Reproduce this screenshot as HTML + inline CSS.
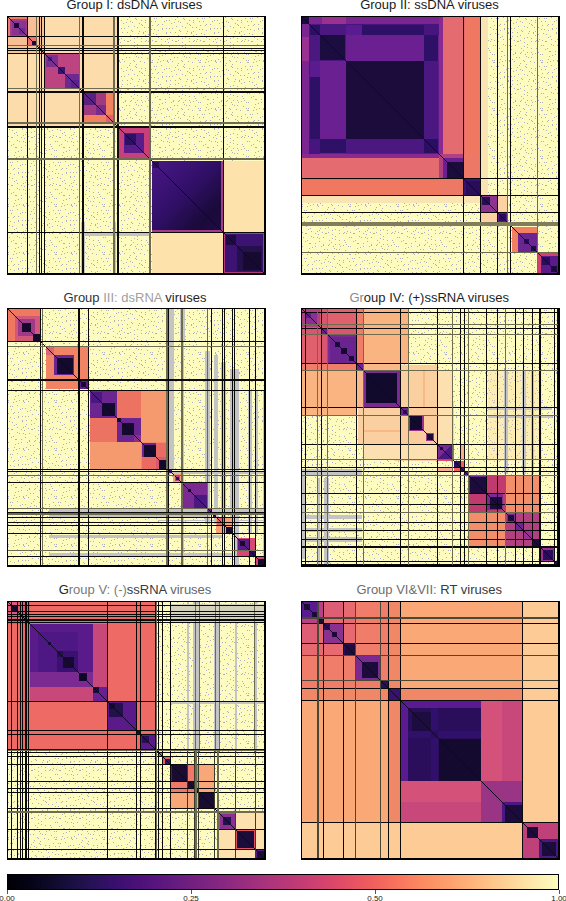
<!DOCTYPE html>
<html><head><meta charset="utf-8"><style>
html,body{margin:0;padding:0;background:#fff;width:566px;height:901px;overflow:hidden}
svg{display:block;font-family:"Liberation Sans",sans-serif}
</style></head><body>
<svg width="566" height="901" viewBox="0 0 566 901" shape-rendering="crispEdges">
<defs><linearGradient id="cb" x1="0" x2="1" y1="0" y2="0"><stop offset="0" stop-color="#000004"/><stop offset="0.05" stop-color="#06051a"/><stop offset="0.1" stop-color="#140e36"/><stop offset="0.15" stop-color="#251255"/><stop offset="0.2" stop-color="#3b0f70"/><stop offset="0.25" stop-color="#51127c"/><stop offset="0.3" stop-color="#641a80"/><stop offset="0.35" stop-color="#782281"/><stop offset="0.4" stop-color="#8c2981"/><stop offset="0.45" stop-color="#a1307e"/><stop offset="0.5" stop-color="#b73779"/><stop offset="0.55" stop-color="#ca3e72"/><stop offset="0.6" stop-color="#de4968"/><stop offset="0.65" stop-color="#ed5a5f"/><stop offset="0.7" stop-color="#f7705c"/><stop offset="0.75" stop-color="#fc8961"/><stop offset="0.8" stop-color="#fe9f6d"/><stop offset="0.85" stop-color="#feb77e"/><stop offset="0.9" stop-color="#fecf92"/><stop offset="0.95" stop-color="#fde7a9"/><stop offset="1" stop-color="#fcfdbf"/></linearGradient><linearGradient id="gF" x1="0" y1="0" x2="1" y2="1"><stop offset="0" stop-color="#4a1786"/><stop offset="0.45" stop-color="#32106a"/><stop offset="0.8" stop-color="#1a0a3a"/><stop offset="1" stop-color="#1e0b42"/></linearGradient><linearGradient id="g6" x1="0" y1="0" x2="1" y2="1"><stop offset="0" stop-color="#4a1888"/><stop offset="0.5" stop-color="#2a0e58"/><stop offset="0.8" stop-color="#160a30"/><stop offset="1" stop-color="#1a0a38"/></linearGradient><pattern id="dots" x="0.5" y="0.5" width="48" height="48" patternUnits="userSpaceOnUse"><rect x="2" y="1" width="1" height="1" fill="#acadbf"/><rect x="3" y="4" width="1" height="1" fill="#acadbf"/><rect x="0" y="8" width="1" height="1" fill="#acadbf"/><rect x="2" y="12" width="1" height="1" fill="#acadbf"/><rect x="1" y="16" width="1" height="1" fill="#acadbf"/><rect x="0" y="23" width="1" height="1" fill="#acadbf"/><rect x="3" y="24" width="1" height="1" fill="#acadbf"/><rect x="1" y="28" width="1" height="1" fill="#acadbf"/><rect x="3" y="32" width="1" height="1" fill="#acadbf"/><rect x="0" y="37" width="1" height="1" fill="#acadbf"/><rect x="0" y="43" width="1" height="1" fill="#acadbf"/><rect x="0" y="45" width="1" height="1" fill="#acadbf"/><rect x="4" y="1" width="1" height="1" fill="#acadbf"/><rect x="6" y="7" width="1" height="1" fill="#acadbf"/><rect x="5" y="8" width="1" height="1" fill="#acadbf"/><rect x="6" y="13" width="1" height="1" fill="#acadbf"/><rect x="4" y="17" width="1" height="1" fill="#acadbf"/><rect x="6" y="20" width="1" height="1" fill="#acadbf"/><rect x="4" y="24" width="1" height="1" fill="#acadbf"/><rect x="5" y="31" width="1" height="1" fill="#acadbf"/><rect x="7" y="34" width="1" height="1" fill="#acadbf"/><rect x="7" y="39" width="1" height="1" fill="#acadbf"/><rect x="6" y="42" width="1" height="1" fill="#acadbf"/><rect x="5" y="45" width="1" height="1" fill="#acadbf"/><rect x="9" y="0" width="1" height="1" fill="#acadbf"/><rect x="10" y="7" width="1" height="1" fill="#acadbf"/><rect x="10" y="11" width="1" height="1" fill="#acadbf"/><rect x="10" y="12" width="1" height="1" fill="#acadbf"/><rect x="8" y="19" width="1" height="1" fill="#acadbf"/><rect x="9" y="22" width="1" height="1" fill="#acadbf"/><rect x="9" y="27" width="1" height="1" fill="#acadbf"/><rect x="11" y="28" width="1" height="1" fill="#acadbf"/><rect x="8" y="34" width="1" height="1" fill="#acadbf"/><rect x="10" y="38" width="1" height="1" fill="#acadbf"/><rect x="11" y="43" width="1" height="1" fill="#acadbf"/><rect x="8" y="44" width="1" height="1" fill="#acadbf"/><rect x="14" y="3" width="1" height="1" fill="#acadbf"/><rect x="12" y="4" width="1" height="1" fill="#acadbf"/><rect x="14" y="11" width="1" height="1" fill="#acadbf"/><rect x="14" y="15" width="1" height="1" fill="#acadbf"/><rect x="14" y="16" width="1" height="1" fill="#acadbf"/><rect x="15" y="22" width="1" height="1" fill="#acadbf"/><rect x="13" y="24" width="1" height="1" fill="#acadbf"/><rect x="15" y="28" width="1" height="1" fill="#acadbf"/><rect x="13" y="34" width="1" height="1" fill="#acadbf"/><rect x="13" y="37" width="1" height="1" fill="#acadbf"/><rect x="15" y="43" width="1" height="1" fill="#acadbf"/><rect x="15" y="44" width="1" height="1" fill="#acadbf"/><rect x="17" y="3" width="1" height="1" fill="#acadbf"/><rect x="19" y="6" width="1" height="1" fill="#acadbf"/><rect x="17" y="11" width="1" height="1" fill="#acadbf"/><rect x="18" y="15" width="1" height="1" fill="#acadbf"/><rect x="18" y="19" width="1" height="1" fill="#acadbf"/><rect x="17" y="21" width="1" height="1" fill="#acadbf"/><rect x="16" y="25" width="1" height="1" fill="#acadbf"/><rect x="17" y="29" width="1" height="1" fill="#acadbf"/><rect x="17" y="32" width="1" height="1" fill="#acadbf"/><rect x="19" y="37" width="1" height="1" fill="#acadbf"/><rect x="18" y="42" width="1" height="1" fill="#acadbf"/><rect x="16" y="45" width="1" height="1" fill="#acadbf"/><rect x="23" y="2" width="1" height="1" fill="#acadbf"/><rect x="22" y="5" width="1" height="1" fill="#acadbf"/><rect x="20" y="11" width="1" height="1" fill="#acadbf"/><rect x="23" y="15" width="1" height="1" fill="#acadbf"/><rect x="23" y="19" width="1" height="1" fill="#acadbf"/><rect x="20" y="23" width="1" height="1" fill="#acadbf"/><rect x="23" y="24" width="1" height="1" fill="#acadbf"/><rect x="21" y="28" width="1" height="1" fill="#acadbf"/><rect x="21" y="35" width="1" height="1" fill="#acadbf"/><rect x="21" y="36" width="1" height="1" fill="#acadbf"/><rect x="22" y="40" width="1" height="1" fill="#acadbf"/><rect x="20" y="44" width="1" height="1" fill="#acadbf"/><rect x="25" y="0" width="1" height="1" fill="#acadbf"/><rect x="26" y="4" width="1" height="1" fill="#acadbf"/><rect x="24" y="9" width="1" height="1" fill="#acadbf"/><rect x="27" y="13" width="1" height="1" fill="#acadbf"/><rect x="26" y="18" width="1" height="1" fill="#acadbf"/><rect x="26" y="23" width="1" height="1" fill="#acadbf"/><rect x="24" y="24" width="1" height="1" fill="#acadbf"/><rect x="27" y="31" width="1" height="1" fill="#acadbf"/><rect x="27" y="35" width="1" height="1" fill="#acadbf"/><rect x="26" y="36" width="1" height="1" fill="#acadbf"/><rect x="25" y="40" width="1" height="1" fill="#acadbf"/><rect x="26" y="46" width="1" height="1" fill="#acadbf"/><rect x="31" y="1" width="1" height="1" fill="#acadbf"/><rect x="28" y="5" width="1" height="1" fill="#acadbf"/><rect x="30" y="9" width="1" height="1" fill="#acadbf"/><rect x="28" y="14" width="1" height="1" fill="#acadbf"/><rect x="28" y="18" width="1" height="1" fill="#acadbf"/><rect x="30" y="21" width="1" height="1" fill="#acadbf"/><rect x="30" y="25" width="1" height="1" fill="#acadbf"/><rect x="30" y="29" width="1" height="1" fill="#acadbf"/><rect x="29" y="33" width="1" height="1" fill="#acadbf"/><rect x="31" y="37" width="1" height="1" fill="#acadbf"/><rect x="29" y="43" width="1" height="1" fill="#acadbf"/><rect x="30" y="44" width="1" height="1" fill="#acadbf"/><rect x="32" y="2" width="1" height="1" fill="#acadbf"/><rect x="35" y="6" width="1" height="1" fill="#acadbf"/><rect x="33" y="10" width="1" height="1" fill="#acadbf"/><rect x="35" y="14" width="1" height="1" fill="#acadbf"/><rect x="34" y="16" width="1" height="1" fill="#acadbf"/><rect x="33" y="20" width="1" height="1" fill="#acadbf"/><rect x="33" y="27" width="1" height="1" fill="#acadbf"/><rect x="33" y="30" width="1" height="1" fill="#acadbf"/><rect x="33" y="35" width="1" height="1" fill="#acadbf"/><rect x="32" y="39" width="1" height="1" fill="#acadbf"/><rect x="34" y="40" width="1" height="1" fill="#acadbf"/><rect x="32" y="47" width="1" height="1" fill="#acadbf"/><rect x="37" y="3" width="1" height="1" fill="#acadbf"/><rect x="37" y="7" width="1" height="1" fill="#acadbf"/><rect x="38" y="8" width="1" height="1" fill="#acadbf"/><rect x="39" y="15" width="1" height="1" fill="#acadbf"/><rect x="39" y="16" width="1" height="1" fill="#acadbf"/><rect x="37" y="21" width="1" height="1" fill="#acadbf"/><rect x="37" y="24" width="1" height="1" fill="#acadbf"/><rect x="37" y="31" width="1" height="1" fill="#acadbf"/><rect x="37" y="35" width="1" height="1" fill="#acadbf"/><rect x="38" y="37" width="1" height="1" fill="#acadbf"/><rect x="37" y="40" width="1" height="1" fill="#acadbf"/><rect x="36" y="44" width="1" height="1" fill="#acadbf"/><rect x="41" y="3" width="1" height="1" fill="#acadbf"/><rect x="41" y="5" width="1" height="1" fill="#acadbf"/><rect x="40" y="10" width="1" height="1" fill="#acadbf"/><rect x="41" y="14" width="1" height="1" fill="#acadbf"/><rect x="41" y="18" width="1" height="1" fill="#acadbf"/><rect x="42" y="23" width="1" height="1" fill="#acadbf"/><rect x="41" y="24" width="1" height="1" fill="#acadbf"/><rect x="42" y="31" width="1" height="1" fill="#acadbf"/><rect x="43" y="33" width="1" height="1" fill="#acadbf"/><rect x="41" y="36" width="1" height="1" fill="#acadbf"/><rect x="43" y="41" width="1" height="1" fill="#acadbf"/><rect x="40" y="45" width="1" height="1" fill="#acadbf"/><rect x="45" y="1" width="1" height="1" fill="#acadbf"/><rect x="47" y="4" width="1" height="1" fill="#acadbf"/><rect x="44" y="10" width="1" height="1" fill="#acadbf"/><rect x="47" y="12" width="1" height="1" fill="#acadbf"/><rect x="44" y="17" width="1" height="1" fill="#acadbf"/><rect x="45" y="22" width="1" height="1" fill="#acadbf"/><rect x="44" y="24" width="1" height="1" fill="#acadbf"/><rect x="47" y="28" width="1" height="1" fill="#acadbf"/><rect x="44" y="35" width="1" height="1" fill="#acadbf"/><rect x="46" y="37" width="1" height="1" fill="#acadbf"/><rect x="46" y="43" width="1" height="1" fill="#acadbf"/><rect x="47" y="45" width="1" height="1" fill="#acadbf"/><rect x="4" y="4" width="1" height="1" fill="#ffffff"/><rect x="7" y="13" width="1" height="1" fill="#ffffff"/><rect x="6" y="21" width="1" height="1" fill="#ffffff"/><rect x="3" y="27" width="1" height="1" fill="#ffffff"/><rect x="4" y="30" width="1" height="1" fill="#ffffff"/><rect x="5" y="43" width="1" height="1" fill="#ffffff"/><rect x="10" y="3" width="1" height="1" fill="#ffffff"/><rect x="9" y="9" width="1" height="1" fill="#ffffff"/><rect x="11" y="19" width="1" height="1" fill="#ffffff"/><rect x="14" y="37" width="1" height="1" fill="#ffffff"/><rect x="9" y="47" width="1" height="1" fill="#ffffff"/><rect x="21" y="4" width="1" height="1" fill="#ffffff"/><rect x="16" y="9" width="1" height="1" fill="#ffffff"/><rect x="20" y="16" width="1" height="1" fill="#ffffff"/><rect x="19" y="24" width="1" height="1" fill="#ffffff"/><rect x="20" y="30" width="1" height="1" fill="#ffffff"/><rect x="18" y="45" width="1" height="1" fill="#ffffff"/><rect x="28" y="9" width="1" height="1" fill="#ffffff"/><rect x="31" y="17" width="1" height="1" fill="#ffffff"/><rect x="28" y="18" width="1" height="1" fill="#ffffff"/><rect x="25" y="32" width="1" height="1" fill="#ffffff"/><rect x="28" y="42" width="1" height="1" fill="#ffffff"/><rect x="35" y="0" width="1" height="1" fill="#ffffff"/><rect x="33" y="9" width="1" height="1" fill="#ffffff"/><rect x="38" y="14" width="1" height="1" fill="#ffffff"/><rect x="32" y="22" width="1" height="1" fill="#ffffff"/><rect x="34" y="43" width="1" height="1" fill="#ffffff"/><rect x="43" y="8" width="1" height="1" fill="#ffffff"/><rect x="42" y="14" width="1" height="1" fill="#ffffff"/><rect x="40" y="20" width="1" height="1" fill="#ffffff"/><rect x="40" y="29" width="1" height="1" fill="#ffffff"/><rect x="43" y="34" width="1" height="1" fill="#ffffff"/><rect x="47" y="36" width="1" height="1" fill="#ffffff"/><rect x="46" y="47" width="1" height="1" fill="#ffffff"/></pattern></defs><g transform="translate(7.5,16.5)"><rect x="0" y="0" width="257.5" height="257.5" fill="#fdfbbe"/><rect x="0" y="0" width="257.5" height="257.5" fill="url(#dots)"/><rect x="0" y="0" width="111.5" height="111.5" fill="#fcdcaa"/><rect x="0" y="0" width="37.2" height="37.2" fill="#f9c292"/><rect x="0" y="19.5" width="19.5" height="9" fill="#f8be96"/><rect x="19.5" y="0" width="9" height="19.5" fill="#f8be96"/><rect x="0" y="0" width="19.5" height="19.5" fill="#f07c68"/><rect x="2.7" y="2.7" width="16.8" height="16.8" fill="#a03c88"/><rect x="4" y="4" width="14" height="14" fill="#8a3490"/><rect x="6.4" y="6.4" width="4.7" height="4.7" fill="#1c0c3c"/><rect x="11.1" y="11.1" width="6.4" height="6.4" fill="#6a2a90"/><rect x="19.6" y="19.6" width="9" height="9" fill="#f07070"/><rect x="24.9" y="24.9" width="3.7" height="3.7" fill="#1c0c3c"/><rect x="28.5" y="28.5" width="1.5" height="1.5" fill="#c04878"/><rect x="30" y="30" width="2.6" height="2.6" fill="#e8706a"/><rect x="32.6" y="32.6" width="1.6" height="1.6" fill="#a03880"/><rect x="34.2" y="34.2" width="3" height="3" fill="#f08068"/><rect x="37.2" y="37.2" width="34.8" height="34.8" fill="#bc4480"/><rect x="38.5" y="38.5" width="11.5" height="11.5" fill="#7a3090"/><rect x="40" y="40" width="4" height="4" fill="#4a1a78"/><rect x="50" y="50" width="7" height="7" fill="#3a1470"/><rect x="57" y="57" width="14.2" height="14.2" fill="#6a2a90"/><rect x="63" y="63" width="8" height="8" fill="#5a2090"/><rect x="74.5" y="74.5" width="32" height="32" fill="#f3805e"/><rect x="76" y="76" width="12" height="12" fill="#5a2080"/><rect x="88" y="88" width="10" height="10" fill="#7a2a88"/><rect x="98" y="98" width="8" height="8" fill="#e06070"/><rect x="76" y="88" width="12" height="10" fill="#a03a80"/><rect x="88" y="76" width="10" height="12" fill="#a03a80"/><rect x="111.5" y="111.5" width="30.5" height="30.5" fill="#c8407a"/><rect x="116.7" y="116.7" width="19.4" height="19.4" fill="#5a1c8a"/><rect x="117.2" y="117.2" width="11.4" height="11.4" fill="#2c1062"/><rect x="144" y="144" width="71.6" height="71.6" fill="#a83888"/><rect x="144" y="144" width="69.4" height="69.4" fill="url(#gF)"/><rect x="145.5" y="145.5" width="6" height="6" fill="#2a0d58"/><rect x="144.5" y="215.6" width="71.1" height="41.9" fill="#fde2ac"/><rect x="215.6" y="144.5" width="41.9" height="71.1" fill="#fde2ac"/><rect x="215.6" y="215.6" width="41.9" height="41.9" fill="#b03a80"/><rect x="217.5" y="217.5" width="38" height="38" fill="#3c1272"/><rect x="218.5" y="218.5" width="9.5" height="9.5" fill="#1e0b42"/><rect x="229" y="229" width="25.5" height="25.5" fill="#24104a"/><rect x="235" y="235" width="18" height="18" fill="#160a30"/><rect x="73.5" y="205" width="3.5" height="52.5" fill="#c4c4c4"/><rect x="106.4" y="205" width="1.8" height="52.5" fill="#c4c4c4"/><rect x="76" y="216" width="67" height="3" fill="#c4c4c4"/><line x1="0" y1="0" x2="257.5" y2="257.5" stroke="#0c0824" stroke-width="1.3"/><rect x="19.1" y="0" width="1" height="257.5" fill="#0a0a0a"/><rect x="0" y="19.1" width="257.5" height="1" fill="#0a0a0a"/><rect x="31.3" y="0" width="1" height="257.5" fill="#0a0a0a"/><rect x="0" y="31.3" width="257.5" height="1" fill="#0a0a0a"/><rect x="33.4" y="0" width="1" height="257.5" fill="#0a0a0a"/><rect x="0" y="33.4" width="257.5" height="1" fill="#0a0a0a"/><rect x="36.6" y="0" width="1" height="257.5" fill="#0a0a0a"/><rect x="0" y="36.6" width="257.5" height="1" fill="#0a0a0a"/><rect x="74" y="0" width="1" height="257.5" fill="#0a0a0a"/><rect x="0" y="74" width="257.5" height="1" fill="#0a0a0a"/><rect x="75.3" y="0" width="1" height="257.5" fill="#0a0a0a"/><rect x="0" y="75.3" width="257.5" height="1" fill="#0a0a0a"/><rect x="109.3" y="0" width="1" height="257.5" fill="#0a0a0a"/><rect x="0" y="109.3" width="257.5" height="1" fill="#0a0a0a"/><rect x="110.7" y="0" width="1" height="257.5" fill="#0a0a0a"/><rect x="0" y="110.7" width="257.5" height="1" fill="#0a0a0a"/><rect x="215.1" y="0" width="1" height="257.5" fill="#0a0a0a"/><rect x="0" y="215.1" width="257.5" height="1" fill="#0a0a0a"/><rect x="71.4" y="0" width="1.2" height="257.5" fill="#6e6c50"/><rect x="0" y="71.4" width="257.5" height="1.2" fill="#6e6c50"/><rect x="105.9" y="0" width="1.2" height="257.5" fill="#6e6c50"/><rect x="0" y="105.9" width="257.5" height="1.2" fill="#6e6c50"/><rect x="28.3" y="0" width="1.6" height="257.5" fill="#6e6c50"/><rect x="0" y="28.3" width="257.5" height="1.6" fill="#6e6c50"/><rect x="141.9" y="0" width="2" height="257.5" fill="#6e6c50"/><rect x="0" y="141.9" width="257.5" height="2" fill="#6e6c50"/><rect x="0" y="0" width="257.5" height="257.5" fill="none" stroke="#000" stroke-width="1.2"/></g><g transform="translate(301.5,16.5)"><rect x="0" y="0" width="257.5" height="257.5" fill="#fdfbbe"/><rect x="0" y="0" width="257.5" height="257.5" fill="url(#dots)"/><rect x="0" y="0" width="137" height="137" fill="#5a1a8a"/><rect x="7" y="0" width="130" height="7" fill="#7a2590"/><rect x="0" y="7" width="7" height="130" fill="#7a2590"/><rect x="20" y="0" width="24" height="7" fill="#9a3090"/><rect x="0" y="20" width="7" height="24" fill="#9a3090"/><rect x="0" y="0" width="7" height="7" fill="#1a0c40"/><rect x="7" y="7" width="37" height="37" fill="#4a1880"/><rect x="8" y="8" width="10.5" height="10.5" fill="#2a1060"/><rect x="18.5" y="18.5" width="25" height="25" fill="#1c0d40"/><rect x="44" y="7" width="93" height="37" fill="#6a2090"/><rect x="7" y="44" width="37" height="93" fill="#6a2090"/><rect x="7" y="44" width="11" height="93" fill="#46167e"/><rect x="44" y="7" width="93" height="11" fill="#46167e"/><rect x="60" y="8" width="62" height="10" fill="#2e1066"/><rect x="8" y="60" width="10" height="62" fill="#2e1066"/><rect x="44" y="8" width="16" height="10" fill="#5a1a90"/><rect x="8" y="44" width="10" height="16" fill="#5a1a90"/><rect x="122" y="18" width="14.6" height="26" fill="#2e1066"/><rect x="18" y="122" width="26" height="14.6" fill="#2e1066"/><rect x="122" y="44" width="14.6" height="78" fill="#4a1880"/><rect x="44" y="122" width="78" height="14.6" fill="#4a1880"/><rect x="44" y="44" width="78" height="78" fill="#1c0c3c"/><rect x="122" y="122" width="14.6" height="14.6" fill="#2a0f60"/><rect x="137" y="0" width="26" height="137" fill="#e46c70"/><rect x="0" y="137" width="137" height="26" fill="#e46c70"/><rect x="137" y="0" width="4.4" height="137" fill="#8a2a90"/><rect x="0" y="137" width="137" height="4.4" fill="#8a2a90"/><rect x="163" y="0" width="16" height="137" fill="#f07860"/><rect x="0" y="163" width="137" height="16" fill="#f07860"/><rect x="179.6" y="0" width="6.4" height="179" fill="#fbe4b4"/><rect x="0" y="179.6" width="179" height="6.4" fill="#fbe4b4"/><rect x="137" y="137" width="25" height="25" fill="#b04080"/><rect x="141.4" y="141.4" width="20.6" height="20.6" fill="#6a2090"/><rect x="145.7" y="145.7" width="16.3" height="16.3" fill="#1c0c3c"/><rect x="137" y="162" width="25" height="17" fill="#ee7866"/><rect x="162" y="137" width="17" height="25" fill="#ee7866"/><rect x="162.4" y="162.4" width="16.6" height="16.6" fill="#3a1070"/><rect x="164" y="164" width="14" height="14" fill="#2a0d58"/><rect x="179.6" y="179.6" width="25.9" height="25.9" fill="#fcd2a2"/><rect x="179.6" y="179.6" width="16" height="16" fill="#8e3290"/><rect x="180" y="180" width="8.5" height="8.5" fill="#241050"/><rect x="196.4" y="196.4" width="3.6" height="3.6" fill="#241050"/><rect x="195.6" y="195.6" width="9.9" height="9.9" fill="#5a1a80"/><rect x="197" y="197" width="7" height="7" fill="#2a0d58"/><rect x="210.5" y="210.5" width="24.9" height="24.9" fill="#f08060"/><rect x="216" y="216" width="19" height="19" fill="#6a2590"/><rect x="222" y="222" width="5" height="5" fill="#2a0d58"/><rect x="229" y="229" width="5.5" height="5.5" fill="#1c0d40"/><rect x="236.5" y="236.5" width="21" height="21" fill="#d04070"/><rect x="239" y="239" width="17" height="17" fill="#5a1a8a"/><rect x="240" y="240" width="8" height="8" fill="#2a0d58"/><rect x="249" y="249" width="6" height="6" fill="#1c0d40"/><line x1="0" y1="0" x2="257.5" y2="257.5" stroke="#0c0824" stroke-width="1.3"/><rect x="161.4" y="0" width="1" height="257.5" fill="#0a0a0a"/><rect x="0" y="161.4" width="257.5" height="1" fill="#0a0a0a"/><rect x="178.6" y="0" width="1" height="257.5" fill="#0a0a0a"/><rect x="0" y="178.6" width="257.5" height="1" fill="#0a0a0a"/><rect x="195.1" y="0" width="1" height="257.5" fill="#0a0a0a"/><rect x="0" y="195.1" width="257.5" height="1" fill="#0a0a0a"/><rect x="208.9" y="0" width="1" height="257.5" fill="#0a0a0a"/><rect x="0" y="208.9" width="257.5" height="1" fill="#0a0a0a"/><rect x="205" y="0" width="1.6" height="257.5" fill="#6e6c50"/><rect x="0" y="205.4" width="257.5" height="4.2" fill="#807c5c"/><rect x="235.2" y="0" width="1.6" height="257.5" fill="#6e6c50"/><rect x="0" y="235.2" width="257.5" height="1.6" fill="#6e6c50"/><rect x="0" y="0" width="257.5" height="257.5" fill="none" stroke="#000" stroke-width="1.2"/></g><g transform="translate(7.5,308.5)"><rect x="0" y="0" width="257.5" height="257.5" fill="#fdfbbe"/><rect x="0" y="0" width="257.5" height="257.5" fill="url(#dots)"/><rect x="160" y="0" width="6.5" height="160" fill="#c4c4c4"/><rect x="172.2" y="0" width="5.1" height="33" fill="#c4c4c4"/><rect x="173.5" y="33" width="3" height="224.5" fill="#c4c4c4"/><rect x="197.5" y="42" width="4.5" height="173" fill="#c4c4c4"/><rect x="206.5" y="46.7" width="4" height="168.3" fill="#c4c4c4"/><rect x="213.5" y="53" width="4.5" height="162" fill="#c4c4c4"/><rect x="222.5" y="60.6" width="4" height="154.4" fill="#c4c4c4"/><rect x="227.5" y="60.6" width="3.5" height="196.9" fill="#c4c4c4"/><rect x="240.5" y="82" width="3.5" height="143" fill="#c4c4c4"/><rect x="247" y="82" width="3" height="143" fill="#c4c4c4"/><rect x="255.5" y="82" width="2" height="175.5" fill="#c4c4c4"/><rect x="41" y="200.7" width="216.5" height="2.3" fill="#c4c4c4"/><rect x="41" y="205.5" width="159" height="2.5" fill="#c4c4c4"/><rect x="150" y="211.3" width="107.5" height="1.2" fill="#c4c4c4"/><rect x="41" y="226.6" width="174" height="2.4" fill="#c4c4c4"/><rect x="41" y="244" width="184" height="3" fill="#c4c4c4"/><rect x="160" y="163.4" width="97.5" height="2.3" fill="#c4c4c4"/><rect x="0.5" y="0.5" width="32.1" height="32.1" fill="#f07860"/><rect x="7.2" y="7.2" width="25.4" height="25.4" fill="#d05878"/><rect x="10" y="10" width="17" height="17" fill="#a03a88"/><rect x="14.3" y="14.3" width="9.5" height="9.5" fill="#140a2e"/><rect x="25.4" y="25.4" width="7.2" height="7.2" fill="#140a2e"/><rect x="38.2" y="38.2" width="42.1" height="42.1" fill="#f08464"/><rect x="38.2" y="38.2" width="7.8" height="7.8" fill="#d86878"/><rect x="46" y="46" width="20.8" height="20.8" fill="#6a2590"/><rect x="49.3" y="49.3" width="15.9" height="15.9" fill="#140a2e"/><rect x="72.3" y="72.3" width="8" height="8" fill="#5a1c88"/><rect x="73.5" y="73.5" width="4.5" height="4.5" fill="#1a0c30"/><rect x="82.5" y="82.5" width="77.5" height="77.5" fill="#f08a68"/><rect x="133.6" y="82.5" width="26.4" height="51.1" fill="#f59a6e"/><rect x="82.5" y="133.6" width="51.1" height="26.4" fill="#f59a6e"/><rect x="82.5" y="82.5" width="26.5" height="26.5" fill="#6a2590"/><rect x="83" y="83" width="11" height="11" fill="#4a1880"/><rect x="94.7" y="94.5" width="12.7" height="12.5" fill="#140a2e"/><rect x="82.5" y="109" width="26.5" height="24.6" fill="#ec7262"/><rect x="109" y="82.5" width="24.6" height="26.5" fill="#ec7262"/><rect x="109.5" y="109.5" width="24.1" height="24.1" fill="#6a2590"/><rect x="109.5" y="109.5" width="4.3" height="4.3" fill="#1a0c30"/><rect x="114.6" y="114.6" width="11.9" height="11.9" fill="#140a2e"/><rect x="126.5" y="126.5" width="7.1" height="7.1" fill="#8a3088"/><rect x="134.4" y="134.4" width="13.6" height="13.6" fill="#6a2590"/><rect x="136.5" y="136.5" width="11.5" height="11.5" fill="#140a2e"/><rect x="148" y="134.4" width="12" height="13.6" fill="#ec6a64"/><rect x="134.4" y="148" width="13.6" height="12" fill="#ec6a64"/><rect x="148" y="148" width="12" height="12" fill="#d85870"/><rect x="151" y="151" width="9" height="9" fill="#140a2e"/><rect x="161.8" y="161.8" width="3.1" height="3.1" fill="#4a1880"/><rect x="165.5" y="165.5" width="8.6" height="8.6" fill="#f8a070"/><rect x="167" y="167" width="5" height="5" fill="#c04878"/><rect x="168" y="168" width="3" height="3" fill="#3a1070"/><rect x="174.8" y="174.8" width="25.3" height="25.3" fill="#7a2a90"/><rect x="180.3" y="180.3" width="3.1" height="3.1" fill="#1a0c30"/><rect x="186" y="186" width="14.1" height="14.1" fill="#4a1880"/><polygon points="186,200.1 200.1,200.1 200.1,186" fill="#4a1880"/><rect x="200.7" y="200.7" width="2.5" height="2.5" fill="#6a2590"/><rect x="205" y="205" width="3" height="3" fill="#2a0d58"/><rect x="208.8" y="208.8" width="16.7" height="16.7" fill="#f8a070"/><rect x="209.5" y="209.5" width="7.5" height="7.5" fill="#e86070"/><rect x="218.6" y="218.6" width="6.9" height="6.9" fill="#1a0c30"/><rect x="229.5" y="229.5" width="19" height="19" fill="#d84872"/><rect x="230.5" y="230.5" width="11.6" height="11.6" fill="#5a1a88"/><rect x="232" y="232" width="5.8" height="5.8" fill="#1a0c30"/><rect x="242.6" y="242.6" width="5.4" height="5.4" fill="#2a0d58"/><rect x="248.5" y="248.5" width="9" height="9" fill="#d04870"/><rect x="250" y="250" width="6.5" height="6.5" fill="#1a0c30"/><line x1="0" y1="0" x2="257.5" y2="257.5" stroke="#0c0824" stroke-width="1.3"/><rect x="32.4" y="0" width="1" height="257.5" fill="#0a0a0a"/><rect x="80.9" y="0" width="1" height="257.5" fill="#0a0a0a"/><rect x="160.1" y="0" width="1" height="257.5" fill="#0a0a0a"/><rect x="203.7" y="0" width="1" height="257.5" fill="#0a0a0a"/><rect x="214.8" y="0" width="1" height="257.5" fill="#0a0a0a"/><rect x="216.8" y="0" width="1" height="257.5" fill="#0a0a0a"/><rect x="224.1" y="0" width="1" height="257.5" fill="#0a0a0a"/><rect x="226.6" y="0" width="1" height="257.5" fill="#0a0a0a"/><rect x="241.5" y="0" width="1" height="257.5" fill="#0a0a0a"/><rect x="247.7" y="0" width="1" height="257.5" fill="#0a0a0a"/><rect x="34.35" y="0" width="1.3" height="257.5" fill="#6e6c50"/><rect x="158.95" y="0" width="1.3" height="257.5" fill="#6e6c50"/><rect x="173.75" y="0" width="1.3" height="257.5" fill="#6e6c50"/><rect x="199.45" y="0" width="1.3" height="257.5" fill="#6e6c50"/><rect x="0" y="32.5" width="257.5" height="1" fill="#0a0a0a"/><rect x="0" y="81.5" width="257.5" height="1" fill="#0a0a0a"/><rect x="0" y="160.7" width="257.5" height="1" fill="#0a0a0a"/><rect x="0" y="162.3" width="257.5" height="1" fill="#0a0a0a"/><rect x="0" y="173.8" width="257.5" height="1" fill="#0a0a0a"/><rect x="0" y="203.2" width="257.5" height="1" fill="#0a0a0a"/><rect x="0" y="208.9" width="257.5" height="1" fill="#0a0a0a"/><rect x="0" y="213.5" width="257.5" height="1" fill="#0a0a0a"/><rect x="0" y="216.5" width="257.5" height="1" fill="#0a0a0a"/><rect x="0" y="224.3" width="257.5" height="1" fill="#0a0a0a"/><rect x="0" y="247.9" width="257.5" height="1" fill="#0a0a0a"/><rect x="0" y="37.25" width="257.5" height="1.3" fill="#6e6c50"/><rect x="0" y="166.25" width="257.5" height="1.3" fill="#6e6c50"/><rect x="0" y="199.55" width="257.5" height="1.3" fill="#6e6c50"/><rect x="0" y="204.85" width="257.5" height="1.3" fill="#6e6c50"/><rect x="0" y="241.65" width="257.5" height="1.3" fill="#6e6c50"/><rect x="70.5" y="0" width="2" height="257.5" fill="#0a0a0a"/><rect x="0" y="70.5" width="257.5" height="2" fill="#0a0a0a"/><rect x="0" y="0" width="257.5" height="257.5" fill="none" stroke="#000" stroke-width="1.2"/></g><g transform="translate(301.5,308.5)"><rect x="0" y="0" width="257.5" height="257.5" fill="#fdfbbe"/><rect x="0" y="0" width="257.5" height="257.5" fill="url(#dots)"/><rect x="186" y="62" width="54" height="90" fill="#f8d8a0" fill-opacity="0.35"/><rect x="62" y="0" width="45" height="55" fill="#f9b482"/><rect x="0" y="62" width="55" height="45" fill="#f9b482"/><rect x="55" y="0" width="7" height="55" fill="#f07c6a"/><rect x="0" y="55" width="55" height="7" fill="#f07c6a"/><rect x="0" y="0" width="55" height="55" fill="#d85672"/><rect x="26.3" y="0" width="28.7" height="20.4" fill="#e0606e"/><rect x="0" y="26.3" width="20.4" height="28.7" fill="#e0606e"/><rect x="55" y="55" width="44.2" height="44.2" fill="#f8b888"/><rect x="55" y="62" width="7" height="37.2" fill="#f9b888"/><rect x="62" y="55" width="37.2" height="7" fill="#f9b888"/><rect x="56" y="99.2" width="79.5" height="36.3" fill="#fbd0a0"/><rect x="99.2" y="56" width="36.3" height="79.5" fill="#fbd0a0"/><rect x="121" y="62" width="2" height="37" fill="#f8b888"/><rect x="62" y="121" width="37" height="2" fill="#f8b888"/><rect x="99.2" y="99.2" width="36.3" height="36.3" fill="#fbcc9c"/><rect x="0" y="0" width="18.5" height="18.5" fill="#b04080"/><rect x="3.7" y="3.7" width="12.4" height="12.4" fill="#8a3090"/><rect x="4" y="4" width="5" height="5" fill="#5a2088"/><rect x="18.5" y="18.5" width="1.9" height="1.9" fill="#6a2590"/><rect x="20.4" y="20.4" width="5.9" height="5.9" fill="#6a2090"/><rect x="26.3" y="26.3" width="28.7" height="28.7" fill="#7a2c8e"/><rect x="28" y="28" width="26" height="26" fill="#6a2490"/><rect x="33.4" y="33.4" width="4.9" height="4.9" fill="#1c0c3c"/><rect x="39" y="39" width="6.8" height="6.8" fill="#160a30"/><rect x="47" y="47" width="5" height="5" fill="#1c0c3c"/><rect x="55.6" y="55.6" width="6.2" height="6.2" fill="#6a2590"/><rect x="62.5" y="62.5" width="36.7" height="36.7" fill="#7a2a90"/><rect x="64.5" y="64.5" width="30.7" height="30" fill="#120a2c"/><rect x="99.4" y="99.4" width="7.1" height="7.1" fill="#6a2590"/><rect x="101" y="101" width="4" height="4" fill="#2a0d58"/><rect x="107" y="107" width="15" height="15" fill="#9a3090"/><rect x="108" y="107.7" width="12.3" height="13.3" fill="#140a2e"/><rect x="124" y="124" width="8.6" height="8.6" fill="#a03a88"/><rect x="125" y="125" width="6" height="6" fill="#1c0c3c"/><rect x="135.5" y="92" width="16.7" height="43.5" fill="#fbd0a0"/><rect x="92" y="135.5" width="43.5" height="16.7" fill="#fbd0a0"/><rect x="62" y="135.5" width="73.5" height="15" fill="#fde0b0"/><rect x="135.5" y="62" width="15" height="73.5" fill="#fde0b0"/><rect x="159.7" y="136" width="2.7" height="14.7" fill="#f8a878"/><rect x="136" y="159.7" width="14.7" height="2.7" fill="#f8a878"/><rect x="135.4" y="159.5" width="14.6" height="2.6" fill="#f8b090"/><rect x="159.5" y="135.4" width="2.6" height="14.6" fill="#f8b090"/><rect x="135.6" y="135.6" width="16.6" height="16.6" fill="#e05068"/><rect x="135.6" y="135.6" width="14.8" height="14.8" fill="#7a2a90"/><rect x="138.5" y="138.5" width="2.7" height="2.7" fill="#1c0c3c"/><polygon points="136,150.4 150.4,150.4 150.4,136" fill="#4a1880"/><rect x="152.2" y="152.2" width="6.6" height="6.6" fill="#2a0d58"/><rect x="152.2" y="158.8" width="6.6" height="3.6" fill="#f06060"/><rect x="158.8" y="152.2" width="3.6" height="6.6" fill="#f06060"/><rect x="158.8" y="158.8" width="3.6" height="3.6" fill="#3a1070"/><rect x="163.5" y="163.5" width="3.5" height="3.5" fill="#5a1a80"/><rect x="167" y="167" width="37" height="37" fill="#c03a70"/><rect x="167" y="167" width="18.5" height="18.5" fill="#6a2590"/><rect x="168.5" y="168.5" width="15.5" height="15.5" fill="#1c0c3c"/><rect x="185.5" y="185.5" width="15.5" height="15.5" fill="#7a2a90"/><rect x="188" y="188" width="12" height="12" fill="#1c0c3c"/><rect x="204" y="167" width="34" height="37" fill="#f38e6a"/><rect x="167" y="204" width="37" height="34" fill="#f38e6a"/><rect x="204" y="204" width="34" height="34" fill="#b04080"/><rect x="205" y="205" width="9" height="9" fill="#7a2a90"/><rect x="206" y="206" width="6" height="6" fill="#1c0c3c"/><rect x="214" y="214" width="8" height="8" fill="#6a2590"/><rect x="222" y="222" width="8" height="8" fill="#9a3090"/><rect x="230" y="230" width="7" height="7" fill="#1c0c3c"/><rect x="239.5" y="239.5" width="12.5" height="12.5" fill="#9a3090"/><rect x="241" y="241" width="10" height="10" fill="#2a0d58"/><rect x="252" y="252" width="5.5" height="5.5" fill="#3a1070"/><rect x="202.3" y="62" width="4.3" height="103" fill="#c4c4c4"/><rect x="220" y="62" width="4.2" height="103" fill="#c4c4c4"/><rect x="229.2" y="62" width="2.8" height="103" fill="#c4c4c4"/><rect x="186" y="98.6" width="64" height="2.9" fill="#c4c4c4"/><rect x="186" y="106.4" width="64" height="2.8" fill="#c4c4c4"/><rect x="15.5" y="169" width="2.9" height="89" fill="#c4c4c4"/><rect x="22.6" y="169" width="5" height="89" fill="#c4c4c4"/><rect x="0" y="206" width="60" height="4" fill="#c4c4c4"/><rect x="0" y="219" width="60" height="4" fill="#c4c4c4"/><rect x="0" y="228.5" width="60" height="4.5" fill="#c4c4c4"/><rect x="0" y="160.4" width="60" height="5.6" fill="#c4c4c4"/><rect x="0" y="160" width="4.5" height="90" fill="#c4c4c4"/><line x1="0" y1="0" x2="257.5" y2="257.5" stroke="#0c0824" stroke-width="1.3"/><rect x="3.2" y="0" width="1" height="257.5" fill="#0a0a0a"/><rect x="0" y="3.2" width="257.5" height="1" fill="#0a0a0a"/><rect x="19.9" y="0" width="1" height="257.5" fill="#0a0a0a"/><rect x="0" y="19.9" width="257.5" height="1" fill="#0a0a0a"/><rect x="54.7" y="0" width="1" height="257.5" fill="#0a0a0a"/><rect x="0" y="54.7" width="257.5" height="1" fill="#0a0a0a"/><rect x="98.8" y="0" width="1" height="257.5" fill="#0a0a0a"/><rect x="0" y="98.8" width="257.5" height="1" fill="#0a0a0a"/><rect x="135.1" y="0" width="1" height="257.5" fill="#0a0a0a"/><rect x="0" y="135.1" width="257.5" height="1" fill="#0a0a0a"/><rect x="150.3" y="0" width="1" height="257.5" fill="#0a0a0a"/><rect x="0" y="150.3" width="257.5" height="1" fill="#0a0a0a"/><rect x="158.9" y="0" width="1" height="257.5" fill="#0a0a0a"/><rect x="0" y="158.9" width="257.5" height="1" fill="#0a0a0a"/><rect x="162.7" y="0" width="1" height="257.5" fill="#0a0a0a"/><rect x="0" y="162.7" width="257.5" height="1" fill="#0a0a0a"/><rect x="184.8" y="0" width="1" height="257.5" fill="#0a0a0a"/><rect x="0" y="184.8" width="257.5" height="1" fill="#0a0a0a"/><rect x="195.9" y="0" width="1" height="257.5" fill="#0a0a0a"/><rect x="0" y="195.9" width="257.5" height="1" fill="#0a0a0a"/><rect x="213.9" y="0" width="1" height="257.5" fill="#0a0a0a"/><rect x="0" y="213.9" width="257.5" height="1" fill="#0a0a0a"/><rect x="221.5" y="0" width="1" height="257.5" fill="#0a0a0a"/><rect x="0" y="221.5" width="257.5" height="1" fill="#0a0a0a"/><rect x="230.1" y="0" width="1" height="257.5" fill="#0a0a0a"/><rect x="0" y="230.1" width="257.5" height="1" fill="#0a0a0a"/><rect x="252" y="0" width="1" height="257.5" fill="#0a0a0a"/><rect x="0" y="252" width="257.5" height="1" fill="#0a0a0a"/><rect x="255.5" y="0" width="1" height="257.5" fill="#0a0a0a"/><rect x="0" y="255.5" width="257.5" height="1" fill="#0a0a0a"/><rect x="237.7" y="0" width="2.2" height="257.5" fill="#0a0a0a"/><rect x="0" y="237.7" width="257.5" height="2.2" fill="#0a0a0a"/><rect x="15.55" y="0" width="1.3" height="257.5" fill="#6e6c50"/><rect x="0" y="15.55" width="257.5" height="1.3" fill="#6e6c50"/><rect x="25.65" y="0" width="1.3" height="257.5" fill="#6e6c50"/><rect x="0" y="25.65" width="257.5" height="1.3" fill="#6e6c50"/><rect x="61.05" y="0" width="1.3" height="257.5" fill="#6e6c50"/><rect x="0" y="61.05" width="257.5" height="1.3" fill="#6e6c50"/><rect x="106.15" y="0" width="1.3" height="257.5" fill="#6e6c50"/><rect x="0" y="106.15" width="257.5" height="1.3" fill="#6e6c50"/><rect x="166.05" y="0" width="1.3" height="257.5" fill="#6e6c50"/><rect x="0" y="166.05" width="257.5" height="1.3" fill="#6e6c50"/><rect x="203.35" y="0" width="1.3" height="257.5" fill="#6e6c50"/><rect x="0" y="203.35" width="257.5" height="1.3" fill="#6e6c50"/><rect x="150.55" y="0" width="1.3" height="257.5" fill="#6e6c50"/><rect x="0" y="150.55" width="257.5" height="1.3" fill="#6e6c50"/><rect x="0" y="0" width="257.5" height="257.5" fill="none" stroke="#000" stroke-width="1.2"/></g><g transform="translate(7.5,601.5)"><rect x="0" y="0" width="257.5" height="257.5" fill="#fdfbbe"/><rect x="0" y="0" width="257.5" height="257.5" fill="url(#dots)"/><rect x="0" y="0" width="148.5" height="148.5" fill="#ee6a64"/><rect x="0" y="0" width="22" height="22" fill="#e05a72"/><rect x="0" y="0" width="22" height="22" fill="#e05a72"/><rect x="0" y="0" width="22" height="22" fill="#e05a74"/><rect x="4.4" y="4.4" width="5.3" height="5.3" fill="#1a0c30"/><rect x="10" y="10" width="2.7" height="2.7" fill="#b04080"/><rect x="12.7" y="12.7" width="1.8" height="1.8" fill="#8a3088"/><rect x="14.5" y="14.5" width="3.2" height="3.2" fill="#c04a7a"/><rect x="22" y="22" width="78.2" height="78.2" fill="#c8487a"/><rect x="22" y="22" width="63" height="63" fill="#5a1a8a"/><rect x="22" y="70" width="63" height="15" fill="#7a2a90"/><rect x="30" y="30" width="40.7" height="40.7" fill="#4e1884"/><rect x="49.5" y="49.5" width="21.2" height="21.2" fill="#3a1070"/><rect x="40" y="40" width="3" height="3" fill="#1c0c3c"/><rect x="49.5" y="49.5" width="6.1" height="6.1" fill="#24104c"/><rect x="55.6" y="55.6" width="10.7" height="10.7" fill="#160a30"/><rect x="71.5" y="71.5" width="8" height="8" fill="#100828"/><rect x="85" y="85" width="15.2" height="15.2" fill="#6a2090"/><rect x="85.7" y="85.7" width="5.3" height="5.3" fill="#1c0c3c"/><rect x="100.4" y="100.4" width="28.8" height="28.8" fill="#5a1a8a"/><rect x="101" y="101" width="14" height="14" fill="#24104c"/><rect x="101" y="101" width="6" height="6" fill="#160a30"/><rect x="129.6" y="129.6" width="3.1" height="3.1" fill="#1c0c3c"/><rect x="133.2" y="133.2" width="14.4" height="14.4" fill="#5a1a8a"/><rect x="134" y="134" width="7" height="7" fill="#2a0d58"/><rect x="150.8" y="150.8" width="4.6" height="4.6" fill="#e86060"/><rect x="155.4" y="155.4" width="8" height="8" fill="#e86060"/><rect x="157" y="157" width="5" height="5" fill="#3a1070"/><rect x="162.5" y="162.5" width="44.8" height="44.8" fill="#f8a878"/><rect x="180.3" y="163.3" width="6.9" height="16.5" fill="#f07868"/><rect x="163.3" y="180.3" width="16.5" height="6.9" fill="#f07868"/><rect x="163.3" y="180.3" width="27.2" height="10.2" fill="#f07868"/><rect x="180.3" y="163.3" width="10.2" height="27.2" fill="#f07868"/><rect x="163.3" y="163.3" width="16.5" height="16.5" fill="#1a0c30"/><rect x="163.3" y="163.3" width="1.2" height="16.5" fill="#4a1880"/><rect x="180.3" y="180.3" width="6.9" height="6.9" fill="#1a0c30"/><rect x="187.7" y="187.7" width="2.8" height="2.8" fill="#3a1070"/><rect x="191.4" y="191.4" width="15.9" height="15.9" fill="#1a0c30"/><rect x="210.4" y="210.4" width="47.1" height="47.1" fill="#fce0ae"/><rect x="211.4" y="211.4" width="16.3" height="16.3" fill="#c84878"/><rect x="212.4" y="212.4" width="14.6" height="14.6" fill="#8a3090"/><rect x="215.4" y="215.4" width="7.9" height="7.9" fill="#24104c"/><rect x="228.7" y="228.7" width="18.3" height="18.3" fill="#e05060"/><rect x="229.7" y="229.7" width="16.8" height="16.8" fill="#1c0c3c"/><rect x="248" y="248" width="8.5" height="8.5" fill="#5a1a8a"/><rect x="249" y="249" width="7" height="7" fill="#1c0c3c"/><rect x="179.6" y="0" width="1.9" height="150" fill="#c4c4c4"/><rect x="185.3" y="0" width="7.5" height="150" fill="#c4c4c4"/><rect x="206.8" y="0" width="5.6" height="150" fill="#c4c4c4"/><rect x="227.4" y="0" width="1.9" height="150" fill="#c4c4c4"/><rect x="246.1" y="0" width="3.8" height="150" fill="#c4c4c4"/><rect x="163.4" y="2" width="94.1" height="18.6" fill="#d4d2bc"/><rect x="163.4" y="99.3" width="94.1" height="2.7" fill="#c4c4c4"/><rect x="187.6" y="0" width="1" height="150" fill="#6e6c50"/><rect x="191.3" y="0" width="1" height="150" fill="#6e6c50"/><rect x="207.3" y="0" width="1" height="150" fill="#6e6c50"/><rect x="211" y="0" width="1" height="150" fill="#6e6c50"/><rect x="246.5" y="0" width="1" height="150" fill="#6e6c50"/><line x1="0" y1="0" x2="257.5" y2="257.5" stroke="#0c0824" stroke-width="1.3"/><rect x="3" y="0" width="1" height="257.5" fill="#0a0a0a"/><rect x="0" y="3" width="257.5" height="1" fill="#0a0a0a"/><rect x="9.2" y="0" width="1" height="257.5" fill="#0a0a0a"/><rect x="0" y="9.2" width="257.5" height="1" fill="#0a0a0a"/><rect x="12.2" y="0" width="1" height="257.5" fill="#0a0a0a"/><rect x="0" y="12.2" width="257.5" height="1" fill="#0a0a0a"/><rect x="14" y="0" width="1" height="257.5" fill="#0a0a0a"/><rect x="0" y="14" width="257.5" height="1" fill="#0a0a0a"/><rect x="17.2" y="0" width="1" height="257.5" fill="#0a0a0a"/><rect x="0" y="17.2" width="257.5" height="1" fill="#0a0a0a"/><rect x="18.9" y="0" width="1" height="257.5" fill="#0a0a0a"/><rect x="0" y="18.9" width="257.5" height="1" fill="#0a0a0a"/><rect x="20.7" y="0" width="1" height="257.5" fill="#0a0a0a"/><rect x="0" y="20.7" width="257.5" height="1" fill="#0a0a0a"/><rect x="128.6" y="0" width="1" height="257.5" fill="#0a0a0a"/><rect x="0" y="128.6" width="257.5" height="1" fill="#0a0a0a"/><rect x="132.2" y="0" width="1" height="257.5" fill="#0a0a0a"/><rect x="0" y="132.2" width="257.5" height="1" fill="#0a0a0a"/><rect x="147.1" y="0" width="1" height="257.5" fill="#0a0a0a"/><rect x="0" y="147.1" width="257.5" height="1" fill="#0a0a0a"/><rect x="150.3" y="0" width="1" height="257.5" fill="#0a0a0a"/><rect x="0" y="150.3" width="257.5" height="1" fill="#0a0a0a"/><rect x="154.9" y="0" width="1" height="257.5" fill="#0a0a0a"/><rect x="0" y="154.9" width="257.5" height="1" fill="#0a0a0a"/><rect x="162" y="0" width="1" height="257.5" fill="#0a0a0a"/><rect x="0" y="162" width="257.5" height="1" fill="#0a0a0a"/><rect x="0" y="179.5" width="257.5" height="1" fill="#0a0a0a"/><rect x="179.5" y="148" width="1" height="109.5" fill="#3a3a2a"/><rect x="0" y="186.6" width="257.5" height="1" fill="#0a0a0a"/><rect x="186.6" y="148" width="1" height="109.5" fill="#3a3a2a"/><rect x="0" y="190.3" width="257.5" height="1" fill="#0a0a0a"/><rect x="190.3" y="148" width="1" height="109.5" fill="#3a3a2a"/><rect x="0" y="206.8" width="257.5" height="1" fill="#0a0a0a"/><rect x="206.8" y="148" width="1" height="109.5" fill="#3a3a2a"/><rect x="0" y="227.8" width="257.5" height="1" fill="#0a0a0a"/><rect x="227.8" y="148" width="1" height="109.5" fill="#3a3a2a"/><rect x="0" y="247" width="257.5" height="1" fill="#0a0a0a"/><rect x="247" y="148" width="1" height="109.5" fill="#3a3a2a"/><rect x="0" y="209.8" width="257.5" height="1.2" fill="#6e6c50"/><rect x="209.8" y="148" width="1.2" height="109.5" fill="#6e6c50"/><rect x="187.9" y="148" width="1.2" height="109.5" fill="#6e6c50"/><rect x="99.6" y="0" width="1.2" height="257.5" fill="#0a0a0a"/><rect x="0" y="99.6" width="257.5" height="1.2" fill="#0a0a0a"/><rect x="148.2" y="0" width="1.2" height="257.5" fill="#6e6c50"/><rect x="0" y="148.2" width="257.5" height="1.2" fill="#6e6c50"/><rect x="0" y="0" width="257.5" height="257.5" fill="none" stroke="#000" stroke-width="1.2"/></g><g transform="translate(301.5,601.5)"><rect x="0" y="0" width="257.5" height="257.5" fill="#fdfbbe"/><rect x="0" y="0" width="257.5" height="257.5" fill="url(#dots)"/><rect x="0" y="0" width="221.3" height="221.3" fill="#f9a876"/><rect x="221.3" y="0" width="36.2" height="221.3" fill="#fccb96"/><rect x="0" y="221.3" width="221.3" height="36.2" fill="#fccb96"/><rect x="0" y="0" width="98.5" height="98.5" fill="#f07c6a"/><rect x="0" y="0" width="54.3" height="54.3" fill="#e66a70"/><rect x="16.5" y="0" width="25.3" height="16.5" fill="#de5e76"/><rect x="0" y="16.5" width="16.5" height="25.3" fill="#de5e76"/><rect x="87.3" y="0" width="11.2" height="221.3" fill="#f08868"/><rect x="0" y="87.3" width="221.3" height="11.2" fill="#f08868"/><rect x="0" y="0" width="16.5" height="16.5" fill="#5a1a90"/><rect x="2" y="2" width="6.7" height="6.7" fill="#1c0c3c"/><rect x="10.3" y="10.3" width="6.2" height="6.2" fill="#1c0c3c"/><rect x="16.8" y="0" width="4.6" height="16.5" fill="#b84088"/><rect x="0" y="16.8" width="16.5" height="4.6" fill="#b84088"/><rect x="16.5" y="16.5" width="5.3" height="5.3" fill="#1c0c3c"/><rect x="21.8" y="21.8" width="20" height="20" fill="#8a3090"/><rect x="22.3" y="22.3" width="5.7" height="5.7" fill="#2a0d58"/><rect x="30.8" y="30.8" width="4.9" height="4.9" fill="#1c0c3c"/><rect x="41.8" y="41.8" width="12.5" height="12.5" fill="#2a0d58"/><rect x="43" y="43" width="11" height="11" fill="#1c0c3c"/><rect x="54.3" y="54.3" width="24.5" height="24.5" fill="#7a2a90"/><rect x="60.5" y="60.5" width="15.5" height="15.5" fill="#1c0c3c"/><rect x="78.8" y="78.8" width="8.5" height="8.5" fill="#2a0d58"/><rect x="87.3" y="87.3" width="11.2" height="11.2" fill="#3a1070"/><rect x="98.5" y="98.5" width="122.8" height="122.8" fill="#d4527a"/><rect x="200" y="98.5" width="21.3" height="81" fill="#c8487c"/><rect x="98.5" y="200" width="81" height="21.3" fill="#c8487c"/><rect x="98.8" y="98.8" width="80.4" height="80.4" fill="#5a1a90"/><rect x="106" y="106" width="73.2" height="73.2" fill="#2a0e5c"/><rect x="110" y="110" width="19" height="19" fill="#1c0c40"/><rect x="129" y="106" width="7" height="73.2" fill="#30106a"/><rect x="106" y="129" width="73.2" height="7" fill="#30106a"/><rect x="129" y="129" width="7" height="7" fill="#2a0e5c"/><rect x="137.7" y="137.7" width="41.5" height="41.5" fill="#140a30"/><rect x="179.5" y="179.5" width="41.8" height="41.8" fill="#9a3585"/><rect x="200" y="200" width="21.3" height="21.3" fill="#4a1880"/><rect x="203" y="203" width="18.3" height="18.3" fill="#1c0c3c"/><rect x="221.5" y="221.5" width="36" height="36" fill="#c0407a"/><rect x="225.5" y="225.5" width="10.5" height="10.5" fill="#1c0c3c"/><rect x="237" y="237" width="19.5" height="19.5" fill="#4a1880"/><rect x="240" y="240" width="14" height="14" fill="#1c0c3c"/><line x1="0" y1="0" x2="257.5" y2="257.5" stroke="#0c0824" stroke-width="1.3"/><rect x="21.3" y="0" width="1" height="257.5" fill="#0a0a0a"/><rect x="0" y="21.3" width="257.5" height="1" fill="#0a0a0a"/><rect x="41.3" y="0" width="1" height="257.5" fill="#0a0a0a"/><rect x="0" y="41.3" width="257.5" height="1" fill="#0a0a0a"/><rect x="86.8" y="0" width="1" height="257.5" fill="#0a0a0a"/><rect x="0" y="86.8" width="257.5" height="1" fill="#0a0a0a"/><rect x="98" y="0" width="1" height="257.5" fill="#0a0a0a"/><rect x="0" y="98" width="257.5" height="1" fill="#0a0a0a"/><rect x="220.8" y="0" width="1" height="257.5" fill="#0a0a0a"/><rect x="0" y="220.8" width="257.5" height="1" fill="#0a0a0a"/><rect x="15.9" y="0" width="1.2" height="257.5" fill="#4a4838"/><rect x="0" y="15.9" width="257.5" height="1.2" fill="#4a4838"/><rect x="53.7" y="0" width="1.2" height="257.5" fill="#4a4838"/><rect x="0" y="53.7" width="257.5" height="1.2" fill="#4a4838"/><rect x="78.2" y="0" width="1.2" height="257.5" fill="#4a4838"/><rect x="0" y="78.2" width="257.5" height="1.2" fill="#4a4838"/><rect x="0" y="0" width="257.5" height="257.5" fill="none" stroke="#000" stroke-width="1.2"/></g><text x="134.4" y="9.3" text-anchor="middle" font-size="13" xml:space="preserve"><tspan fill="#1a1a1a">Group I: dsDNA viruses</tspan></text><text x="429.5" y="9.3" text-anchor="middle" font-size="13" xml:space="preserve"><tspan fill="#1a1a1a">Group II: ssDNA viruses</tspan></text><text x="135" y="301.7" text-anchor="middle" font-size="13" xml:space="preserve"><tspan fill="#333333">Group </tspan><tspan fill="#a0a0a0">III: dsRNA</tspan><tspan fill="#1e1e1e"> viruses</tspan></text><text x="429.2" y="301.7" text-anchor="middle" font-size="13" xml:space="preserve"><tspan fill="#8a8a8a">Gr</tspan><tspan fill="#1e1e1e">oup IV: (+)ssRNA viruses</tspan></text><text x="135" y="594.1" text-anchor="middle" font-size="13" xml:space="preserve"><tspan fill="#222222">G</tspan><tspan fill="#7a7a7a">roup V: (-)</tspan><tspan fill="#3a3a3a">ssRNA</tspan><tspan fill="#666666"> viruses</tspan></text><text x="429.2" y="594.1" text-anchor="middle" font-size="13" xml:space="preserve"><tspan fill="#6e6e6e">Group VI&amp;VII:</tspan><tspan fill="#3a3a3a"> RT viruses</tspan></text><rect x="7.5" y="874.5" width="551" height="14.5" fill="url(#cb)" stroke="#000" stroke-width="1"/><rect x="6.5" y="889.5" width="1" height="4" fill="#555"/><text x="7" y="900.5" text-anchor="middle" font-size="8" fill="#222">0.00</text><rect x="190.5" y="889.5" width="1" height="4" fill="#555"/><text x="191" y="900.5" text-anchor="middle" font-size="8" fill="#222">0.25</text><rect x="374.5" y="889.5" width="1" height="4" fill="#555"/><text x="375" y="900.5" text-anchor="middle" font-size="8" fill="#222">0.50</text><rect x="558.5" y="889.5" width="1" height="4" fill="#555"/><text x="559" y="900.5" text-anchor="middle" font-size="8" fill="#222">1.00</text>
</svg>
</body></html>
